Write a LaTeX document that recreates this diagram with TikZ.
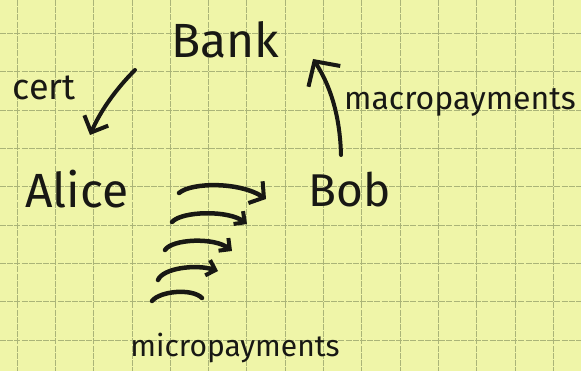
\documentclass[tikz,border=0pt]{standalone}
\usepackage{fontspec}
\setmainfont{Fira Sans}
\usetikzlibrary{arrows.meta}
\definecolor{paper}{RGB}{239,245,168}
\definecolor{gridc}{RGB}{170,180,120}
\definecolor{ink}{RGB}{24,24,20}
\begin{document}
\begin{tikzpicture}[x=1pt,y=-1pt,
  gridline/.style={draw=gridc,line width=0.8pt,dash pattern=on 6pt off 1.2pt},
  lbl/.style={inner sep=0pt,text=ink,anchor=base},
  ink line/.style={draw=ink,line width=4pt,line cap=round,line join=round},
  bigarr/.style={ink line,-{Straight Barb[length=13pt,width=26pt,line width=4pt]}},
  macroarr/.style={ink line,-{Straight Barb[length=18pt,width=38pt,line width=4pt]}},
  microarr/.style={ink line,line width=4.5pt,-{Straight Barb[length=8pt,width=16pt,line width=4pt]}},
  microbig/.style={ink line,line width=4.5pt,-{Straight Barb[length=10pt,width=26pt,line width=4pt]}},
]
\fill[paper] (0,0) rectangle (581,371);
\useasboundingbox (0,0) rectangle (581,371);
\foreach \i in {0,...,14} \draw[gridline] ({17+38.3*\i},0) -- ({17+38.3*\i},371);
\foreach \j in {0,...,8} \draw[gridline] (0,{33.5+38.3*\j}) -- (581,{33.5+38.3*\j});

% labels
\node[lbl,font=\fontsize{48}{50}\selectfont] (bank) at (225,58) {Bank};
\node[lbl,font=\fontsize{36}{38}\selectfont] (cert) at (44,100) {cert};
\node[lbl,font=\fontsize{48}{50}\selectfont] (alice) at (77,208) {Alice};
\node[lbl,font=\fontsize{46}{48}\selectfont] (bob) at (350,207) {Bob};
\node[lbl,font=\fontsize{32}{34}\selectfont] (macro) at (460,110) {macropayments};
\node[lbl,font=\fontsize{30}{32}\selectfont] (micro) at (235,356) {micropayments};

% connector end points
\coordinate (bankout) at (135,70);
\coordinate (alicein) at (90,135);
\coordinate (bobout) at (341,155);
\coordinate (bankin) at (313,59);
\coordinate (m1s) at (179,193); \coordinate (m1e) at (266,199);
\coordinate (m2s) at (172,222); \coordinate (m2e) at (247,224);
\coordinate (m3s) at (165,250); \coordinate (m3e) at (232,251);
\coordinate (m4s) at (158,280); \coordinate (m4e) at (218,271);
\coordinate (m5s) at (152,301); \coordinate (m5e) at (202,298);

% Bank -> Alice
\draw[bigarr] (bankout) .. controls (115,90) and (100,112) .. (alicein);
% Bob -> Bank
\draw[macroarr] (bobout) .. controls (340,115) and (330,85) .. (bankin);
% micropayments Alice -> Bob
\draw[microbig] (m1s) .. controls (192,182) and (240,182) .. (m1e);
\draw[microarr] (m2s) .. controls (182,211) and (228,210) .. (m2e);
\draw[microarr] (m3s) .. controls (172,239) and (214,237) .. (m3e);
\draw[microarr] (m4s) .. controls (163,268) and (196,264) .. (m4e);
\draw[ink line,line width=4.5pt] (m5s) .. controls (160,291) and (192,288) .. (m5e);
\end{tikzpicture}
\end{document}
